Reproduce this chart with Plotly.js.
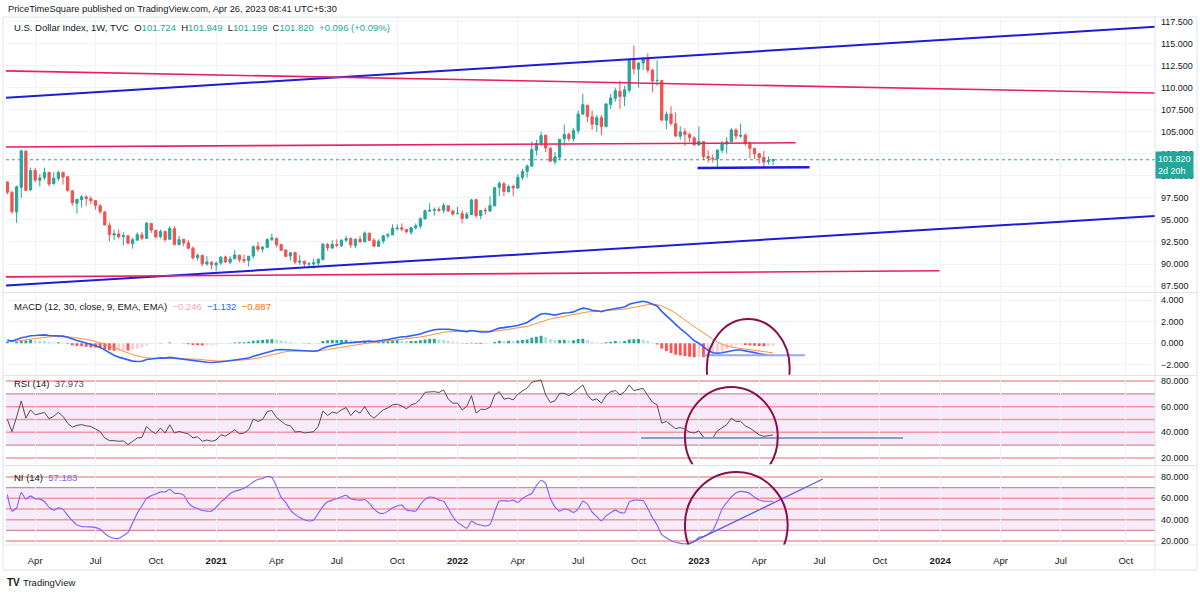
<!DOCTYPE html>
<html>
<head>
<meta charset="utf-8">
<script src="https://cdn.plot.ly/plotly-3.0.1.min.js"></script>
<style>
  html, body { margin: 0; padding: 0; background: #fff; }
  #plot { width: 1200px; height: 593px; }
</style>
</head>
<body>
<div id="plot"></div>
<script>
// weekly bars, U.S. Dollar Index (TVC), first bar = week of 2020-02-24
var firstWeek = '2020-02-24';

var opens = [
  99.30, 98.10, 95.90, 98.70, 102.80, 98.40, 100.60, 99.50, 99.80, 100.40,
  99.10, 99.70, 100.40, 99.90, 98.30, 96.90, 97.30, 97.60, 97.40, 97.20,
  96.60, 95.90, 94.40, 93.30, 93.40, 93.10, 93.20, 92.30, 92.70, 93.30,
  92.90, 94.60, 93.80, 93.10, 93.70, 92.80, 94.00, 92.20, 92.80, 92.40,
  91.80, 90.70, 91.00, 90.00, 90.20, 89.90, 90.10, 90.80, 90.20, 90.60,
  91.00, 90.50, 90.40, 90.90, 92.00, 91.70, 91.90, 92.80, 92.90, 92.20,
  91.60, 90.90, 91.30, 90.20, 90.30, 90.00, 90.00, 90.10, 90.50, 92.20,
  91.80, 92.20, 92.10, 92.70, 92.90, 92.10, 92.80, 92.50, 93.50, 92.70,
  92.00, 92.60, 93.20, 93.30, 94.00, 94.10, 93.90, 93.60, 94.10, 94.30,
  95.10, 96.00, 96.10, 96.20, 96.10, 96.60, 96.00, 95.70, 95.70, 95.20,
  95.60, 97.30, 95.50, 96.10, 96.00, 96.60, 98.70, 99.10, 98.20, 98.80,
  98.60, 99.80, 100.50, 101.10, 102.90, 103.70, 104.60, 103.10, 101.60, 102.10,
  104.20, 104.70, 104.20, 105.10, 107.00, 108.00, 106.70, 105.80, 106.60, 105.60,
  108.10, 108.80, 109.60, 109.00, 109.70, 113.20, 112.10, 112.80, 113.30, 112.00,
  110.80, 110.80, 106.30, 107.00, 105.90, 104.50, 105.00, 104.70, 104.30, 103.50,
  103.90, 102.20, 102.00, 101.90, 102.90, 103.60, 103.90, 105.20, 104.50, 104.60,
  103.70, 103.10, 102.50, 102.10, 101.60, 101.724
];
var highs = [
  99.40, 98.30, 98.90, 102.99, 102.90, 100.93, 100.90, 100.20, 100.93, 100.40,
  100.40, 100.56, 100.40, 99.97, 98.40, 97.40, 97.80, 97.80, 97.70, 97.20,
  96.80, 96.00, 94.70, 93.90, 93.90, 93.60, 93.30, 93.00, 93.60, 93.60,
  94.74, 94.60, 93.90, 93.90, 93.70, 94.30, 94.30, 93.20, 92.80, 92.70,
  92.00, 91.20, 91.00, 90.90, 90.30, 90.30, 90.90, 90.95, 90.90, 91.60,
  91.05, 91.05, 90.90, 92.10, 92.50, 92.00, 92.90, 93.44, 93.00, 92.30,
  91.60, 91.40, 91.40, 91.00, 90.40, 90.20, 90.60, 90.60, 92.40, 92.40,
  92.70, 92.80, 92.80, 93.20, 93.00, 92.90, 93.20, 93.70, 93.50, 92.90,
  92.80, 93.30, 93.50, 94.50, 94.50, 94.60, 94.00, 94.20, 94.60, 95.30,
  96.20, 96.90, 96.40, 96.45, 96.90, 96.60, 96.20, 96.50, 96.10, 95.90,
  97.40, 97.40, 96.10, 96.40, 97.70, 98.70, 99.40, 99.30, 99.00, 99.00,
  100.20, 100.80, 101.30, 103.90, 104.10, 105.00, 104.70, 103.30, 102.70, 104.20,
  105.80, 104.90, 105.40, 107.40, 109.30, 108.00, 107.40, 106.90, 106.90, 108.20,
  109.30, 110.00, 110.80, 110.20, 113.30, 114.78, 112.90, 113.50, 113.90, 112.10,
  113.10, 110.90, 107.30, 107.90, 107.20, 105.60, 105.40, 104.90, 104.50, 105.60,
  103.90, 102.90, 102.40, 103.00, 103.96, 104.40, 105.40, 105.40, 105.90, 104.80,
  103.90, 103.20, 102.60, 102.80, 102.20, 101.949
];
var lows = [
  97.90, 95.70, 94.65, 97.50, 98.27, 98.30, 99.30, 98.80, 99.50, 98.80,
  99.00, 99.40, 99.00, 98.20, 96.60, 95.70, 96.40, 96.60, 96.80, 96.20,
  95.70, 94.40, 92.55, 92.70, 92.90, 92.10, 92.20, 91.75, 92.70, 92.70,
  92.90, 93.50, 93.00, 92.90, 92.50, 92.80, 92.10, 92.10, 92.00, 91.70,
  90.50, 90.40, 89.74, 89.80, 89.40, 89.21, 89.90, 90.10, 90.00, 90.50,
  90.20, 90.10, 89.70, 90.60, 91.40, 91.30, 91.80, 92.60, 91.90, 91.50,
  90.80, 90.40, 90.00, 89.90, 89.60, 89.50, 89.50, 89.80, 90.40, 91.50,
  91.80, 91.90, 91.90, 92.50, 91.80, 91.80, 92.40, 92.50, 92.60, 91.90,
  92.00, 92.30, 92.90, 93.30, 93.80, 93.70, 93.50, 93.30, 93.90, 94.00,
  95.10, 95.90, 95.50, 95.90, 95.80, 95.90, 95.50, 95.70, 94.60, 95.10,
  95.60, 95.20, 95.10, 95.60, 95.90, 96.50, 97.70, 97.70, 98.10, 97.70,
  98.60, 99.50, 99.80, 101.00, 102.30, 103.40, 102.70, 101.60, 101.30, 101.80,
  103.40, 103.90, 103.90, 104.80, 106.90, 106.10, 105.20, 105.00, 104.60, 105.50,
  107.60, 108.40, 107.60, 107.90, 109.40, 111.50, 110.00, 112.00, 111.70, 109.50,
  110.20, 106.30, 105.30, 105.70, 104.40, 104.10, 103.40, 103.80, 103.40, 103.40,
  101.80, 101.50, 101.50, 100.80, 102.60, 102.50, 103.80, 104.10, 104.30, 103.40,
  102.00, 101.90, 101.40, 100.80, 101.30, 101.199
];
var closes = [
  98.13, 95.95, 98.75, 102.82, 98.36, 100.59, 99.51, 99.76, 100.37, 99.07,
  99.73, 100.37, 99.86, 98.34, 96.94, 97.33, 97.62, 97.43, 97.17, 96.65,
  95.92, 94.43, 93.35, 93.43, 93.10, 93.22, 92.37, 92.75, 93.33, 92.93,
  94.64, 93.84, 93.06, 93.68, 92.78, 94.04, 92.23, 92.76, 92.39, 91.79,
  90.70, 90.98, 90.02, 90.24, 89.94, 90.10, 90.77, 90.23, 90.58, 91.03,
  90.48, 90.36, 90.88, 91.97, 91.68, 91.92, 92.77, 92.95, 92.17, 91.56,
  90.86, 91.28, 90.22, 90.31, 90.01, 90.03, 90.14, 90.55, 92.23, 91.84,
  92.22, 92.12, 92.68, 92.89, 92.17, 92.80, 92.52, 93.50, 92.68, 92.03,
  92.58, 93.20, 93.33, 94.04, 94.07, 93.96, 93.64, 94.12, 94.33, 95.13,
  96.03, 96.08, 96.15, 96.09, 96.64, 96.02, 95.67, 95.73, 95.17, 95.64,
  97.27, 95.50, 96.07, 96.04, 96.62, 98.66, 99.12, 98.23, 98.79, 98.61,
  99.83, 100.50, 101.12, 102.96, 103.66, 104.56, 103.15, 101.66, 102.15, 104.15,
  104.69, 104.21, 105.14, 107.01, 108.07, 106.73, 105.85, 106.60, 105.60, 108.16,
  108.83, 109.65, 109.00, 109.76, 113.19, 112.12, 112.79, 113.31, 111.99, 110.75,
  110.82, 106.31, 106.97, 105.95, 104.52, 104.98, 104.70, 104.33, 103.52, 103.89,
  102.20, 101.99, 101.92, 102.92, 103.63, 103.86, 105.21, 104.52, 104.58, 103.72,
  103.12, 102.51, 102.09, 101.55, 101.724, 101.820
];

// MACD (12, 30, close, 9)
var macdLine = [
  0.31, 0.20, 0.35, 0.52, 0.58, 0.70, 0.72, 0.77, 0.78, 0.72,
  0.70, 0.72, 0.66, 0.55, 0.38, 0.25, 0.15, 0.05, -0.10, -0.22,
  -0.38, -0.62, -0.90, -1.10, -1.28, -1.42, -1.58, -1.65, -1.68, -1.66,
  -1.50, -1.42, -1.40, -1.35, -1.37, -1.30, -1.36, -1.38, -1.42, -1.48,
  -1.58, -1.64, -1.72, -1.75, -1.77, -1.76, -1.70, -1.66, -1.60, -1.52,
  -1.48, -1.44, -1.36, -1.20, -1.08, -0.96, -0.80, -0.66, -0.60, -0.58,
  -0.60, -0.60, -0.66, -0.70, -0.73, -0.74, -0.73, -0.68, -0.45, -0.30,
  -0.20, -0.12, -0.03, 0.05, 0.06, 0.10, 0.12, 0.20, 0.20, 0.16,
  0.20, 0.28, 0.35, 0.45, 0.55, 0.60, 0.62, 0.68, 0.74, 0.86,
  1.02, 1.15, 1.25, 1.30, 1.32, 1.30, 1.25, 1.20, 1.12, 1.08,
  1.18, 1.08, 1.05, 1.04, 1.08, 1.25, 1.40, 1.45, 1.52, 1.55,
  1.65, 1.78, 1.92, 2.20, 2.45, 2.70, 2.75, 2.65, 2.60, 2.70,
  2.80, 2.82, 2.90, 3.10, 3.25, 3.20, 3.05, 3.00, 2.92, 3.05,
  3.15, 3.25, 3.28, 3.35, 3.60, 3.72, 3.82, 3.88, 3.80, 3.62,
  3.45, 2.95, 2.55, 2.15, 1.70, 1.35, 1.02, 0.60, 0.25, 0.00,
  -0.35, -0.65, -0.88, -0.92, -0.88, -0.80, -0.68, -0.62, -0.62, -0.68,
  -0.76, -0.86, -0.96, -1.05, -1.10, -1.132
];
var signalLine = [
  0.15, 0.16, 0.20, 0.26, 0.32, 0.40, 0.46, 0.52, 0.57, 0.60,
  0.62, 0.62, 0.62, 0.60, 0.55, 0.50, 0.43, 0.36, 0.28, 0.18,
  0.06, -0.07, -0.25, -0.42, -0.60, -0.77, -0.92, -1.05, -1.17, -1.27,
  -1.33, -1.37, -1.38, -1.38, -1.38, -1.37, -1.37, -1.38, -1.39, -1.40,
  -1.43, -1.47, -1.52, -1.57, -1.61, -1.63, -1.64, -1.64, -1.63, -1.60,
  -1.57, -1.54, -1.50, -1.44, -1.36, -1.27, -1.16, -1.04, -0.93, -0.85,
  -0.78, -0.73, -0.71, -0.70, -0.70, -0.70, -0.71, -0.70, -0.65, -0.58,
  -0.50, -0.42, -0.34, -0.26, -0.20, -0.14, -0.09, -0.03, 0.02, 0.05,
  0.08, 0.12, 0.17, 0.22, 0.28, 0.34, 0.40, 0.46, 0.52, 0.58,
  0.66, 0.76, 0.86, 0.95, 1.02, 1.07, 1.10, 1.13, 1.14, 1.13,
  1.14, 1.13, 1.11, 1.10, 1.09, 1.12, 1.17, 1.23, 1.29, 1.34,
  1.40, 1.47, 1.56, 1.69, 1.84, 2.01, 2.16, 2.26, 2.33, 2.40,
  2.48, 2.55, 2.62, 2.71, 2.82, 2.90, 2.93, 2.94, 2.94, 2.96,
  3.00, 3.05, 3.10, 3.15, 3.24, 3.34, 3.43, 3.52, 3.57, 3.58,
  3.56, 3.44, 3.26, 3.04, 2.77, 2.49, 2.20, 1.85, 1.55, 1.25,
  0.95, 0.65, 0.35, 0.10, -0.10, -0.25, -0.35, -0.42, -0.48, -0.53,
  -0.58, -0.64, -0.70, -0.77, -0.83, -0.887
];
var macdHist = [
  0.16, 0.04, 0.15, 0.26, 0.26, 0.30, 0.26, 0.25, 0.21, 0.12,
  0.08, 0.10, 0.04, -0.05, -0.17, -0.25, -0.28, -0.31, -0.38, -0.40,
  -0.44, -0.55, -0.65, -0.68, -0.68, -0.65, -0.66, -0.60, -0.51, -0.39,
  -0.17, -0.05, -0.02, 0.03, 0.01, 0.07, 0.01, 0.00, -0.03, -0.08,
  -0.15, -0.17, -0.20, -0.18, -0.16, -0.13, -0.06, -0.02, 0.03, 0.08,
  0.09, 0.10, 0.14, 0.24, 0.28, 0.31, 0.36, 0.38, 0.33, 0.27,
  0.18, 0.13, 0.05, 0.00, -0.03, -0.04, -0.02, 0.02, 0.20, 0.28,
  0.30, 0.30, 0.31, 0.31, 0.26, 0.24, 0.21, 0.23, 0.18, 0.11,
  0.12, 0.16, 0.18, 0.23, 0.27, 0.26, 0.22, 0.22, 0.22, 0.28,
  0.36, 0.39, 0.39, 0.35, 0.30, 0.23, 0.15, 0.07, -0.02, -0.05,
  0.04, -0.05, -0.06, -0.06, -0.01, 0.13, 0.23, 0.22, 0.23, 0.21,
  0.25, 0.31, 0.36, 0.51, 0.61, 0.69, 0.59, 0.39, 0.27, 0.30,
  0.32, 0.27, 0.28, 0.39, 0.43, 0.30, 0.12, 0.06, -0.02, 0.09,
  0.15, 0.20, 0.18, 0.20, 0.36, 0.38, 0.39, 0.36, 0.23, 0.04,
  -0.11, -0.49, -0.71, -0.89, -1.07, -1.14, -1.18, -1.25, -1.30, -1.25,
  -1.30, -1.30, -1.23, -1.02, -0.78, -0.55, -0.33, -0.20, -0.14, -0.15,
  -0.18, -0.22, -0.26, -0.28, -0.27, -0.246
];

// RSI (14)
var rsi = [
  50.0, 40.5, 52.0, 64.5, 51.0, 57.5, 53.6, 54.5, 55.5, 50.5,
  52.5, 55.5, 52.4, 47.0, 44.0, 45.4, 46.0, 45.0, 44.6, 42.5,
  40.5, 35.5, 33.5, 33.5, 33.0, 33.3, 30.4, 33.0, 35.6, 36.0,
  44.6, 41.0, 38.9, 43.3, 39.4, 45.9, 39.4, 40.7, 39.5, 38.7,
  35.6, 36.5, 33.0, 34.0, 33.0, 34.0, 38.1, 37.0, 39.4, 42.0,
  38.9, 39.4, 42.0, 50.3, 48.5, 50.0, 56.2, 57.0, 51.5, 48.5,
  45.9, 45.0, 40.2, 40.7, 39.5, 39.9, 40.5, 44.6, 56.7, 53.1,
  55.7, 54.9, 57.5, 59.3, 53.1, 57.0, 54.9, 60.1, 54.0, 51.0,
  54.0, 57.5, 59.0, 61.4, 61.9, 60.5, 58.3, 61.4, 62.5, 66.0,
  71.2, 71.4, 71.7, 71.0, 73.0, 66.0, 62.7, 62.7, 57.5, 60.1,
  68.6, 54.9, 58.0, 57.8, 59.6, 69.1, 71.7, 65.8, 66.6, 65.3,
  69.7, 72.2, 74.5, 79.0, 80.0, 80.8, 69.1, 63.2, 64.5, 70.4,
  70.4, 68.6, 71.0, 74.0, 76.9, 69.1, 65.0, 66.0, 62.7, 68.6,
  71.7, 72.5, 69.1, 71.7, 76.9, 72.5, 73.5, 74.3, 68.6, 63.5,
  61.4, 47.2, 48.5, 45.5, 42.8, 43.8, 42.5, 40.2, 39.4, 41.2,
  36.1, 35.6, 35.6, 41.2, 43.8, 45.9, 51.0, 48.5, 48.5, 45.0,
  43.3, 40.7, 38.1, 36.8, 37.6, 37.973
];

// NI (14)
var ni = [
  63.5, 48.0, 51.0, 65.4, 59.2, 62.3, 59.5, 59.2, 57.0, 51.5,
  49.0, 51.0, 49.6, 44.0, 39.0, 35.0, 33.6, 33.3, 33.2, 32.5,
  31.0, 27.0, 24.0, 22.5, 22.4, 25.0, 28.0, 37.0, 46.0, 53.0,
  60.0, 62.5, 64.0, 66.0, 66.0, 68.5, 64.8, 64.5, 63.0, 56.0,
  52.0, 50.5, 48.5, 48.0, 48.0, 51.5, 56.5, 60.0, 64.5, 66.6,
  67.9, 69.5, 72.0, 75.3, 77.5, 78.5, 80.6, 79.5, 71.0, 61.0,
  56.0, 49.0, 45.0, 42.0, 40.0, 38.7, 39.6, 46.0, 52.5, 56.7,
  58.3, 59.5, 61.4, 62.9, 59.5, 58.7, 58.3, 58.9, 55.2, 50.0,
  46.5, 45.8, 48.0, 51.0, 52.8, 53.6, 49.0, 48.3, 48.0, 54.2,
  59.0, 61.2, 60.5, 58.3, 57.3, 50.5, 43.0, 37.5, 34.5, 31.9,
  38.7, 36.0, 35.0, 34.0, 35.6, 47.4, 57.5, 57.8, 57.3, 58.3,
  56.1, 59.8, 62.5, 64.5, 72.0, 76.9, 73.8, 60.0, 52.0, 48.0,
  49.9, 49.0, 46.8, 50.0, 57.3, 54.5, 47.0, 43.0, 38.7, 43.5,
  46.5, 48.9, 46.8, 46.5, 56.5, 58.3, 58.3, 58.0, 50.5, 42.0,
  35.0, 26.0, 23.0, 20.5, 18.8, 17.8, 17.3, 17.9, 19.5, 23.5,
  24.1, 26.5, 30.0, 39.0, 50.0, 56.0, 61.4, 65.0, 66.5, 66.0,
  64.5, 61.0, 58.5, 57.3, 57.2, 57.183
];

// time axis labels
var xTickVals = ['2020-04-06','2020-07-06','2020-10-05','2021-01-04','2021-04-05','2021-07-05',
  '2021-10-04','2022-01-03','2022-04-04','2022-07-04','2022-10-03','2023-01-02','2023-04-03',
  '2023-07-03','2023-10-02','2024-01-01','2024-04-01','2024-07-01','2024-10-07'];
var xTickText = ['Apr','Jul','Oct','2021','Apr','Jul','Oct','2022','Apr','Jul','Oct','2023',
  'Apr','Jul','Oct','2024','Apr','Jul','Oct'];

// hand drawn lines on the chart: [date, value] end points
var chanUpper  = [['2020-02-22', 108.85], ['2024-11-20', 116.90]];
var chanLower  = [['2020-02-22', 87.55],  ['2024-11-20', 95.45]];
var resTop     = [['2020-02-22', 111.90], ['2024-11-20', 109.40]];
var resMid     = [['2020-02-22', 103.27], ['2023-05-28', 103.75]];
var supBottom  = [['2020-02-22', 88.54],  ['2023-12-31', 89.23]];
var supRecent  = [['2022-12-31', 100.88], ['2023-06-18', 100.97]];
var macdFloor  = [['2023-01-09', -1.10],  ['2023-06-11', -1.10]];
var rsiFloor   = [['2022-10-07', 35.6],   ['2023-11-06', 35.6]];
var niTrend    = [['2022-12-02', 12.5],   ['2023-07-08', 78.1]];
var macdCircle = [['2023-01-14', -6.8],   ['2023-05-19', 2.24]];
var rsiCircle  = [['2022-12-12', -2.6],   ['2023-05-01', 75.3]];
var niCircle   = [['2022-12-12', -14.6],  ['2023-05-16', 84.7]];
var oscLevels  = [80, 70, 60, 50, 40, 30, 20];

// ---------------------------------------------------------------
var FONT = 'Liberation Sans, Arial, sans-serif';
var UP = '#26a69a', DOWN = '#ef5350';

var weeks = closes.map(function (c, i) {
  var t = Date.parse(firstWeek + 'T00:00:00Z') + i * 7 * 864e5;
  return new Date(t).toISOString().slice(0, 10);
});

var histColors = macdHist.map(function (h, i) {
  var prev = i > 0 ? macdHist[i - 1] : h;
  if (h >= 0) return h >= prev ? '#26a69a' : '#b2dfdb';
  return h < prev ? '#ff5252' : '#ffcdd2';
});

var data = [
  {
    type: 'candlestick', x: weeks, open: opens, high: highs, low: lows, close: closes,
    xaxis: 'x', yaxis: 'y', whiskerwidth: 0, hoverinfo: 'skip',
    increasing: { line: { color: UP, width: 1 }, fillcolor: UP },
    decreasing: { line: { color: DOWN, width: 1 }, fillcolor: DOWN }
  },
  {
    type: 'bar', x: weeks, y: macdHist, xaxis: 'x', yaxis: 'y2',
    marker: { color: histColors, line: { width: 0 } }, width: 4.3 * 864e5, hoverinfo: 'skip'
  },
  {
    type: 'scatter', mode: 'lines', x: weeks, y: signalLine, xaxis: 'x', yaxis: 'y2',
    line: { color: '#ff8f3a', width: 1 }, hoverinfo: 'skip'
  },
  {
    type: 'scatter', mode: 'lines', x: weeks, y: macdLine, xaxis: 'x', yaxis: 'y2',
    line: { color: '#2962ff', width: 1.6 }, hoverinfo: 'skip'
  },
  {
    type: 'scatter', mode: 'lines', x: weeks, y: rsi, xaxis: 'x', yaxis: 'y3',
    line: { color: '#4f4f58', width: 1 }, hoverinfo: 'skip'
  },
  {
    type: 'scatter', mode: 'lines', x: weeks, y: ni, xaxis: 'x', yaxis: 'y4',
    line: { color: '#7b61ff', width: 1.1, shape: 'spline', smoothing: 0.5 }, hoverinfo: 'skip'
  }
];

// page pixel -> paper coordinates (plot area is x 6..1155, y 18..545)
function px(x) { return (x - 6) / 1149; }
function py(y) { return (545 - y) / 527; }

var shapes = [];
function seg(pts, yref, color, width) {
  shapes.push({ type: 'line', xref: 'x', yref: yref, x0: pts[0][0], y0: pts[0][1],
    x1: pts[1][0], y1: pts[1][1], line: { color: color, width: width } });
}
function ring(pts, yref) {
  shapes.push({ type: 'circle', xref: 'x', yref: yref, x0: pts[0][0], y0: pts[0][1],
    x1: pts[1][0], y1: pts[1][1], line: { color: '#880e4f', width: 2 } });
}

// oscillator panes: band fill and level lines
['y3', 'y4'].forEach(function (yr) {
  shapes.push({ type: 'rect', xref: 'paper', yref: yr, x0: 0, x1: 1, y0: 30, y1: 70,
    fillcolor: 'rgba(200,120,230,0.15)', line: { width: 0 }, layer: 'below' });
  oscLevels.forEach(function (lv) {
    var mid = (lv === 70 || lv === 30);
    shapes.push({ type: 'line', xref: 'paper', yref: yr, x0: 0, x1: 1, y0: lv, y1: lv,
      line: { color: mid ? '#c98f98' : '#f5969a', width: mid ? 1.2 : 1.5 }, layer: 'below' });
  });
});

// last price line
shapes.push({ type: 'line', xref: 'paper', yref: 'y', x0: 0, x1: 1,
  y0: closes[closes.length - 1], y1: closes[closes.length - 1],
  line: { color: UP, width: 1, dash: 'dot' } });

seg(chanUpper, 'y', '#1c1cd9', 2);
seg(chanLower, 'y', '#1c1cd9', 2);
seg(resTop, 'y', '#e91e63', 1.6);
seg(resMid, 'y', '#e91e63', 1.6);
seg(supBottom, 'y', '#e91e63', 1.6);
seg(supRecent, 'y', '#1c1cd9', 2.5);
seg(macdFloor, 'y2', '#9aa6f5', 2);
seg(rsiFloor, 'y3', '#8e9cbf', 2);
seg(niTrend, 'y4', '#5c5ce6', 1.3);
ring(macdCircle, 'y2');
ring(rsiCircle, 'y3');
ring(niCircle, 'y4');

// frame and pane separators
var frameC = '#e0e3eb';
[py(292.5), py(375.5), py(465.5), 0].forEach(function (v) {
  shapes.push({ type: 'line', xref: 'paper', yref: 'paper', x0: px(3), x1: px(1197), y0: v, y1: v,
    line: { color: frameC, width: 1 } });
});
shapes.push({ type: 'rect', xref: 'paper', yref: 'paper', x0: px(3), x1: px(1197), y0: py(570), y1: py(17),
  line: { color: frameC, width: 1 } });
shapes.push({ type: 'line', xref: 'paper', yref: 'paper', x0: 1, x1: 1, y0: py(570), y1: py(17),
  line: { color: frameC, width: 1 } });

function fmt(v) { return (v < 0 ? '\u2212' : '') + Math.abs(v).toFixed(3); }
function col(c, t) { return '<span style="color:' + c + '">' + t + '</span>'; }

var n = closes.length;
var chg = closes[n - 1] - closes[n - 2];
var pct = chg / closes[n - 2] * 100;
var legendTxt = 'U.S. Dollar Index, 1W, TVC&nbsp;&nbsp;O' + col(UP, opens[n - 1].toFixed(3)) +
  '&nbsp;&nbsp;H' + col(UP, highs[n - 1].toFixed(3)) +
  '&nbsp;&nbsp;L' + col(UP, lows[n - 1].toFixed(3)) +
  '&nbsp;&nbsp;C' + col(UP, closes[n - 1].toFixed(3)) +
  '&nbsp;&nbsp;' + col(UP, '+' + chg.toFixed(3) + ' (+' + pct.toFixed(2) + '%)');
var macdTxt = 'MACD (12, 30, close, 9, EMA, EMA)&nbsp;&nbsp;' + col('#f7a9b3', fmt(macdHist[n - 1])) +
  '&nbsp;&nbsp;' + col('#2962ff', fmt(macdLine[n - 1])) +
  '&nbsp;&nbsp;' + col('#ff6d00', fmt(signalLine[n - 1]));

function note(x, y, text, size, color) {
  return { xref: 'paper', yref: 'paper', x: px(x), y: py(y), xanchor: 'left', yanchor: 'middle',
    showarrow: false, text: text, font: { size: size, color: color || '#131722', family: FONT } };
}

var annotations = [
  note(6, 9, 'PriceTimeSquare published on TradingView.com, Apr 26, 2023 08:41 UTC+5:30', 9.3, '#131722'),
  note(12, 27, legendTxt, 9.5, '#131722'),
  note(12, 306, macdTxt, 9.5, '#131722'),
  note(12, 383, 'RSI (14)&nbsp;&nbsp;' + col('#4f4f58', rsi[n - 1].toFixed(3)), 9.5, '#131722'),
  note(12, 478, 'NI (14)&nbsp;&nbsp;' + col('#7b61ff', ni[n - 1].toFixed(3)), 9.5, '#131722'),
  note(5, 582, '<b>TV</b>', 10, '#131722'),
  note(21, 582, 'TradingView', 9.5, '#131722'),
  {
    xref: 'paper', yref: 'y', x: 1, y: closes[n - 1], xanchor: 'left', yanchor: 'middle',
    yshift: -5, showarrow: false, align: 'left', bgcolor: UP, borderpad: 2,
    text: closes[n - 1].toFixed(3) + '<br>2d 20h', font: { size: 9, color: '#ffffff', family: FONT }
  }
];

function yax(domain, range, extra) {
  var a = {
    domain: domain, range: range, side: 'right', anchor: 'x', fixedrange: true,
    showgrid: true, gridcolor: '#f0f3fa', zeroline: false, showline: false, ticks: '',
    ticklabelstandoff: 5, tickformat: '.3f', tickfont: { size: 9, color: '#131722', family: FONT }
  };
  for (var k in extra) a[k] = extra[k];
  return a;
}

var layout = {
  width: 1200, height: 593,
  margin: { l: 6, r: 45, t: 18, b: 48, pad: 0 },
  paper_bgcolor: '#ffffff', plot_bgcolor: '#ffffff',
  showlegend: false, dragmode: false, hovermode: false,
  font: { family: FONT, size: 9, color: '#131722' },
  xaxis: {
    type: 'date', anchor: 'y4', range: ['2020-02-22', '2024-11-20'],
    tickmode: 'array', tickvals: xTickVals,
    ticktext: xTickText.map(function (t) { return /^\d{4}$/.test(t) ? '<b>' + t + '</b>' : t; }),
    showgrid: true, gridcolor: '#f0f3fa', zeroline: false, showline: false, ticks: '',
    ticklabelstandoff: 8, tickfont: { size: 9.5, color: '#131722', family: FONT },
    rangeslider: { visible: false }, fixedrange: true
  },
  yaxis: yax([0.481, 1], [86.88, 117.9], { tick0: 0, dtick: 2.5 }),
  yaxis2: yax([0.323, 0.477], [-2.91, 4.59], { tickmode: 'array', tickvals: [-2, 0, 2, 4] }),
  yaxis3: yax([0.153, 0.319], [15.0, 83.2], { tickmode: 'array', tickvals: [20, 40, 60, 80], showgrid: false }),
  yaxis4: yax([0, 0.149], [16.25, 89.8], { tickmode: 'array', tickvals: [20, 40, 60, 80], showgrid: false }),
  bargap: 0.3,
  shapes: shapes,
  annotations: annotations
};

Plotly.newPlot('plot', data, layout, { displayModeBar: false, staticPlot: true });
</script>
</body>
</html>
